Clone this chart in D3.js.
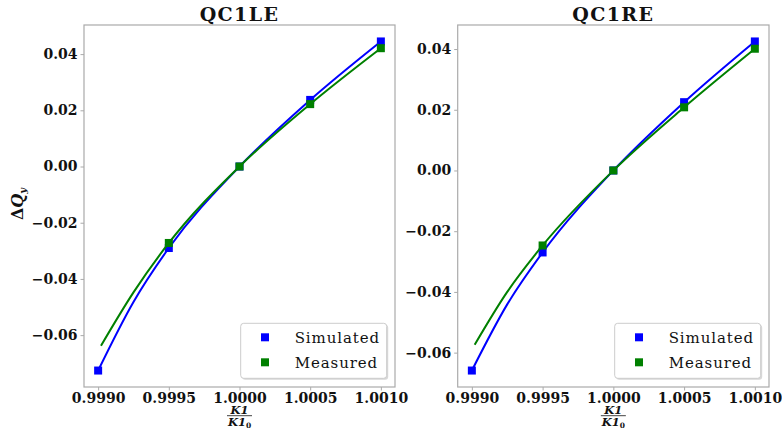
<!DOCTYPE html>
<html>
<head>
<meta charset="utf-8">
<script src="https://cdn.jsdelivr.net/npm/d3@7"></script>
<style>
  html, body { margin: 0; padding: 0; background: #fff; }
  svg { display: block; }
  text { font-family: "DejaVu Serif", serif; fill: #111; }
</style>
</head>
<body>
<svg id="chart" width="782" height="429"></svg>
<script>
// ---------------- data ----------------
const kValues = [0.9990, 0.9995, 1.0000, 1.0005, 1.0010];
const xTicks = [0.9990, 0.9995, 1.0000, 1.0005, 1.0010];
const yTicks = [-0.06, -0.04, -0.02, 0.00, 0.02, 0.04];
const panelTitles = ["QC1LE", "QC1RE"];
const seriesNames = ["Simulated", "Measured"];

// QC1LE markers
const leSimulated = [-0.0726, -0.0290, 0.0000, 0.0237, 0.0445];
const leMeasuredK = [0.9995, 1.0000, 1.0005, 1.0010];
const leMeasured = [-0.0272, 0.0000, 0.0222, 0.0421];
// QC1LE fitted curves
const leSimFitK = [0.9990, 0.99925, 0.9995, 1.0000, 1.0005, 1.0010];
const leSimFit = [-0.0726, -0.0482, -0.0290, 0.0000, 0.0237, 0.0445];
const leMeasFitK = [0.99902, 0.99925, 0.9995, 1.0000, 1.0005, 1.0010];
const leMeasFit = [-0.0638, -0.0448, -0.0272, 0.0000, 0.0222, 0.0421];

// QC1RE markers
const reSimulated = [-0.0659, -0.0270, 0.0000, 0.0225, 0.0425];
const reMeasuredK = [0.9995, 1.0000, 1.0005, 1.0010];
const reMeasured = [-0.0247, 0.0000, 0.0208, 0.0401];
// QC1RE fitted curves
const reSimFitK = [0.9990, 0.99925, 0.9995, 1.0000, 1.0005, 1.0010];
const reSimFit = [-0.0659, -0.0441, -0.0270, 0.0000, 0.0225, 0.0425];
const reMeasFitK = [0.99902, 0.99925, 0.9995, 1.0000, 1.0005, 1.0010];
const reMeasFit = [-0.0574, -0.0400, -0.0247, 0.0000, 0.0208, 0.0401];

const panels = [
  { title: panelTitles[0], simK: kValues, sim: leSimulated, measK: leMeasuredK, meas: leMeasured,
    simFitK: leSimFitK, simFit: leSimFit, fitK: leMeasFitK, fit: leMeasFit },
  { title: panelTitles[1], simK: kValues, sim: reSimulated, measK: reMeasuredK, meas: reMeasured,
    simFitK: reSimFitK, simFit: reSimFit, fitK: reMeasFitK, fit: reMeasFit }
];

// ---------------- layout ----------------
const svg = d3.select("#chart");
const frames = [
  { left: 84, right: 395, top: 25, bottom: 387 },
  { left: 457.7, right: 769, top: 25, bottom: 387 }
];
const colors = { sim: "#0000ff", meas: "#008000" };
const spine = "#aaaaaa";
const fmtMinus = s => s.replace("-", "\u2212");

panels.forEach((p, i) => {
  const f = frames[i];
  const xMin = d3.min(xTicks), xMax = d3.max(xTicks);
  const xPad = (xMax - xMin) * 0.05;
  const x = d3.scaleLinear().domain([xMin - xPad, xMax + xPad]).range([f.left, f.right]);
  const allY = p.sim.concat(p.meas, p.fit, p.simFit);
  const yMin = d3.min(allY), yMax = d3.max(allY);
  const yPad = (yMax - yMin) * 0.05;
  const y = d3.scaleLinear().domain([yMin - yPad, yMax + yPad]).range([f.bottom, f.top]);

  const g = svg.append("g");

  // axes
  const xAxis = d3.axisBottom(x).tickValues(xTicks).tickSize(3.5).tickPadding(3).tickFormat(d3.format(".4f"));
  const yAxis = d3.axisLeft(y).tickValues(yTicks).tickSize(3.5).tickPadding(3).tickFormat(d => fmtMinus(d3.format(".2f")(d)));

  const gx = g.append("g").attr("transform", `translate(0,${f.bottom})`).call(xAxis);
  const gy = g.append("g").attr("transform", `translate(${f.left},0)`).call(yAxis);
  [gx, gy].forEach(a => {
    a.select(".domain").remove();
    a.selectAll(".tick line").attr("stroke", spine).attr("stroke-width", 1);
    a.selectAll(".tick text").attr("font-family", "DejaVu Serif").attr("font-weight", "bold")
      .attr("font-size", 14).attr("fill", "#111");
  });
  gx.selectAll(".tick text").attr("dy", "0.7em");

  // frame
  g.append("rect").attr("x", f.left).attr("y", f.top)
    .attr("width", f.right - f.left).attr("height", f.bottom - f.top)
    .attr("fill", "none").attr("stroke", spine).attr("stroke-width", 1.2);

  // title
  g.append("text").attr("x", (f.left + f.right) / 2).attr("y", 21)
    .attr("text-anchor", "middle").attr("font-size", 19).attr("font-weight", "bold")
    .attr("letter-spacing", 1.4)
    .text(p.title);

  // x label: fraction K1 / K1_0
  const cx = (f.left + f.right) / 2;
  const xl = g.append("g").attr("font-size", 11.5).attr("font-weight", "bold").attr("font-style", "italic");
  xl.append("text").attr("x", cx).attr("y", 413.5).attr("text-anchor", "middle").text("K1");
  xl.append("line").attr("x1", cx - 12.5).attr("x2", cx + 12.5).attr("y1", 415.7).attr("y2", 415.7)
    .attr("stroke", "#111").attr("stroke-width", 0.8);
  const den = xl.append("text").attr("x", cx).attr("y", 425.5).attr("text-anchor", "middle");
  den.append("tspan").text("K1");
  den.append("tspan").attr("font-size", 7.5).attr("font-style", "normal").attr("dy", 2).text("0");

  // y label on first panel
  if (i === 0) {
    const yl = g.append("text").attr("transform", `translate(23,204) rotate(-90)`)
      .attr("text-anchor", "middle").attr("font-size", 16).attr("font-weight", "bold");
    yl.append("tspan").text("\u0394");
    yl.append("tspan").attr("font-style", "italic").text("Q");
    yl.append("tspan").attr("font-style", "italic").attr("font-size", 10).attr("dy", 3).text("y");
  }

  // curves
  const clipId = "clip" + i;
  svg.append("clipPath").attr("id", clipId).append("rect")
    .attr("x", f.left).attr("y", f.top).attr("width", f.right - f.left).attr("height", f.bottom - f.top);
  const plot = g.append("g").attr("clip-path", `url(#${clipId})`);

  const line = d3.line().x(d => x(d[0])).y(d => y(d[1])).curve(d3.curveMonotoneX);
  const simPts = p.simK.map((k, j) => [k, p.sim[j]]);
  const simFitPts = p.simFitK.map((k, j) => [k, p.simFit[j]]);
  const fitPts = p.fitK.map((k, j) => [k, p.fit[j]]);
  const measPts = p.measK.map((k, j) => [k, p.meas[j]]);
  const ms = 8;

  plot.append("path").datum(simFitPts).attr("d", line).attr("fill", "none")
    .attr("stroke", colors.sim).attr("stroke-width", 2);
  plot.selectAll(".simm").data(simPts).enter().append("rect")
    .attr("x", d => x(d[0]) - ms / 2).attr("y", d => y(d[1]) - ms / 2)
    .attr("width", ms).attr("height", ms).attr("fill", colors.sim);
  plot.append("path").datum(fitPts).attr("d", line).attr("fill", "none")
    .attr("stroke", colors.meas).attr("stroke-width", 2);
  plot.selectAll(".measm").data(measPts).enter().append("rect")
    .attr("x", d => x(d[0]) - ms / 2).attr("y", d => y(d[1]) - ms / 2)
    .attr("width", ms).attr("height", ms).attr("fill", colors.meas);

  // legend
  const lw = 146, lh = 55;
  const lx = f.right - 8.3 - lw, ly = f.bottom - 8.7 - lh;
  const lg = g.append("g");
  lg.append("rect").attr("x", lx + 1.5).attr("y", ly + 1.5).attr("width", lw).attr("height", lh)
    .attr("rx", 3).attr("fill", "#d8d8d8");
  lg.append("rect").attr("x", lx).attr("y", ly).attr("width", lw).attr("height", lh)
    .attr("rx", 3).attr("fill", "#fff").attr("stroke", "#cccccc").attr("stroke-width", 1);
  seriesNames.forEach((name, j) => {
    const ry = ly + 14 + j * 25;
    lg.append("rect").attr("x", lx + 24.3 - 4).attr("y", ry - 4).attr("width", 8).attr("height", 8)
      .attr("fill", j === 0 ? colors.sim : colors.meas);
    lg.append("text").attr("x", lx + 54).attr("y", ry + 5.5).attr("font-size", 15)
      .attr("letter-spacing", 0.9).text(name);
  });
});
</script>
</body>
</html>
